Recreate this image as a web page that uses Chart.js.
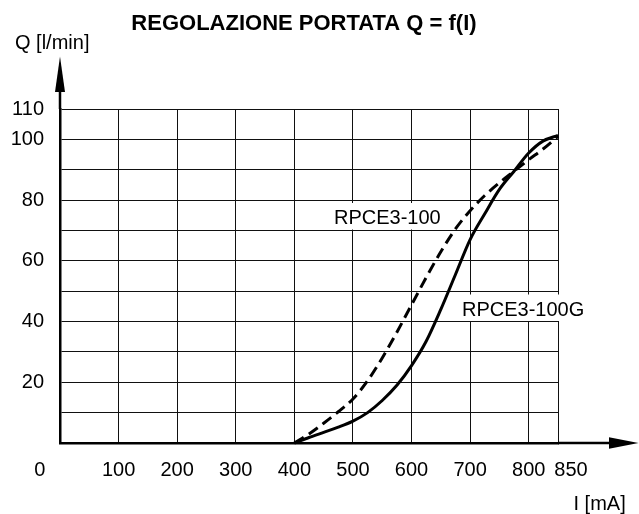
<!DOCTYPE html>
<html>
<head>
<meta charset="utf-8">
<title>Regolazione portata Q = f(I)</title>
<script src="https://cdn.jsdelivr.net/npm/chart.js@4.4.1/dist/chart.umd.min.js"></script>
<style>
  html, body { margin: 0; padding: 0; background: #fff; }
  #chart { display: block; }
</style>
</head>
<body>
<canvas id="chart" width="639" height="514"></canvas>
<script>
// I [mA] grid lines (the last column is only 50 mA wide)
const currentTicks = [0, 100, 200, 300, 400, 500, 600, 700, 800, 850];
// Q [l/min] values that get a label (grid every 10)
const flowLabels = [20, 40, 60, 80, 100, 110];

// RPCE3-100 (dashed)
const rpceCurrent = [400, 425, 450, 475, 500, 525, 550, 575, 600, 625, 650, 675, 700, 725, 750, 775, 800, 825, 850];
const rpceFlow = [0, 3, 6.5, 10.3, 14.5, 20.5, 28, 36.5, 45.5, 54.5, 63, 70.5, 76.5, 81.5, 85.7, 89.5, 93.3, 96.9, 101];

// RPCE3-100G (solid)
const rpceGCurrent = [400, 425, 450, 475, 500, 525, 550, 575, 600, 625, 650, 675, 700, 725, 750, 775, 800, 825, 850];
const rpceGFlow = [0, 1.8, 3.5, 5.2, 7.2, 10, 14, 19, 25.5, 33.5, 44, 55.5, 67, 75.5, 83.5, 89.5, 95.5, 99.5, 101.3];

const FONT = '"Liberation Sans", Arial, sans-serif';

function toPoints(xs, ys) {
  return xs.map((x, i) => ({ x: x, y: ys[i] }));
}

// texts, label boxes and axis arrows
const overlay = {
  id: 'overlay',
  beforeDatasetsDraw(chart) {
    const ctx = chart.ctx;
    ctx.save();
    ctx.font = '20px ' + FONT;
    ctx.textAlign = 'left';
    ctx.textBaseline = 'alphabetic';
    [['RPCE3-100', 334, 224], ['RPCE3-100G', 462, 315.5]].forEach(([text, x, y]) => {
      const w = ctx.measureText(text).width;
      ctx.fillStyle = '#fff';
      ctx.fillRect(x - 2, y - 21, w + 4, 26.5);
      ctx.fillStyle = '#000';
      ctx.fillText(text, x, y);
    });
    ctx.restore();
  },
  afterDraw(chart) {
    const ctx = chart.ctx;
    const xs = chart.scales.x, ys = chart.scales.y;
    const x0 = xs.getPixelForValue(0);
    const y0 = ys.getPixelForValue(0);
    const top = ys.getPixelForValue(110);
    const right = xs.getPixelForValue(850);

    ctx.save();
    ctx.strokeStyle = '#000';
    ctx.fillStyle = '#000';
    ctx.lineWidth = 2.5;
    ctx.beginPath();
    ctx.moveTo(x0, top);
    ctx.lineTo(x0, 90);
    ctx.moveTo(right, y0);
    ctx.lineTo(611, y0);
    ctx.stroke();

    ctx.beginPath();
    ctx.moveTo(x0, 56.5);
    ctx.lineTo(x0 - 5, 92);
    ctx.lineTo(x0 + 5, 92);
    ctx.closePath();
    ctx.fill();

    ctx.beginPath();
    ctx.moveTo(638.5, y0);
    ctx.lineTo(609, y0 - 5.8);
    ctx.lineTo(609, y0 + 5.8);
    ctx.closePath();
    ctx.fill();

    ctx.font = 'bold 22px ' + FONT;
    ctx.textAlign = 'center';
    ctx.fillText('REGOLAZIONE PORTATA Q = f(I)', 304, 30);

    ctx.font = '20px ' + FONT;
    ctx.textAlign = 'left';
    ctx.fillText('Q [l/min]', 15, 48.5);
    ctx.fillText('I [mA]', 573.5, 510);

    ctx.textAlign = 'center';
    ctx.textBaseline = 'middle';
    ctx.fillText('0', 39.7, 470);
    ctx.fillText('850', 571, 470);
    ctx.restore();
  }
};

const ctx = document.getElementById('chart').getContext('2d');
new Chart(ctx, {
  type: 'line',
  data: {
    datasets: [
      {
        label: 'RPCE3-100',
        data: toPoints(rpceCurrent, rpceFlow),
        borderColor: '#000',
        borderWidth: 3,
        borderDash: [11, 6],
        pointRadius: 0,
        cubicInterpolationMode: 'monotone',
        fill: false,
        clip: false
      },
      {
        label: 'RPCE3-100G',
        data: toPoints(rpceGCurrent, rpceGFlow),
        borderColor: '#000',
        borderWidth: 3,
        pointRadius: 0,
        cubicInterpolationMode: 'monotone',
        fill: false,
        clip: false
      }
    ]
  },
  options: {
    responsive: false,
    animation: false,
    layout: {
      padding: { top: 109, right: 81, bottom: 0, left: 0 }
    },
    plugins: {
      legend: { display: false },
      tooltip: { enabled: false },
      title: { display: false }
    },
    scales: {
      x: {
        type: 'linear',
        min: 0,
        max: 850,
        afterBuildTicks: (scale) => {
          scale.ticks = currentTicks.map(v => ({ value: v }));
        },
        afterFit: (scale) => { scale.height = 71; },
        ticks: {
          callback: (v) => (v === 0 || v === 850) ? '' : String(v),
          padding: 15,
          color: '#000',
          font: { family: FONT, size: 20 },
          maxRotation: 0,
          autoSkip: false
        },
        grid: { color: '#111', lineWidth: 1, drawTicks: false },
        border: { color: '#000', width: 2.5 }
      },
      y: {
        min: 0,
        max: 110,
        afterFit: (scale) => { scale.width = 60; },
        ticks: {
          stepSize: 10,
          callback: (v) => flowLabels.includes(v) ? String(v) : '',
          padding: 16,
          color: '#000',
          font: { family: FONT, size: 20 },
          autoSkip: false
        },
        grid: { color: '#111', lineWidth: 1, drawTicks: false },
        border: { color: '#000', width: 2.5 }
      }
    }
  },
  plugins: [overlay]
});
</script>
</body>
</html>
